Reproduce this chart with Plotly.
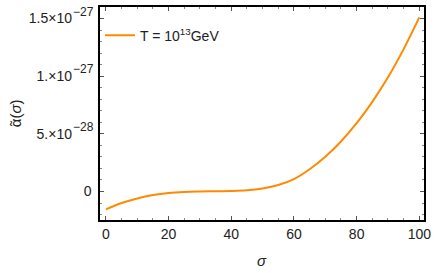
import plotly.graph_objects as go

sigma = [0, 5, 10, 15, 20, 25, 30, 35, 40, 45, 50, 55, 60, 65, 70, 75, 80, 85, 90, 95, 100]
alpha_1e27 = [-0.155, -0.100, -0.060, -0.031, -0.013, -0.004, 0.0, 0.002, 0.004, 0.010, 0.026,
              0.056, 0.108, 0.193, 0.301, 0.434, 0.592, 0.777, 0.990, 1.235, 1.510]
alpha = [v * 1e-27 for v in alpha_1e27]

ytick_vals = [0, 5e-28, 1e-27, 1.5e-27]
ytick_mant = ["0", "5.×10", "1.×10", "1.5×10"]
ytick_exp = ["", "−28", "−27", "−27"]
xtick_vals = [0, 20, 40, 60, 80, 100]
series_name = "T = 10<sup>13</sup>GeV"

FONT = "Liberation Sans, Arial, sans-serif"
ORANGE = "#FF8A00"
NB = "\u00a0"

ytick_text = [m + (NB * 5 if e else "") for m, e in zip(ytick_mant, ytick_exp)]

fig = go.Figure()
fig.add_trace(go.Scatter(
    x=sigma, y=alpha, mode="lines", line=dict(color=ORANGE, width=2, shape="spline"),
    name=series_name))

axis_common = dict(showgrid=False, zeroline=False, showline=True, linecolor="black",
                   linewidth=1.5, mirror="allticks", ticks="inside", ticklen=4,
                   tickcolor="#555", tickwidth=1,
                   tickfont=dict(family=FONT, size=14, color="#222"))

annotations = [
    dict(text="<i>σ</i>", xref="paper", yref="paper", x=0.5, y=-0.19,
         xanchor="center", yanchor="middle", showarrow=False,
         font=dict(family=FONT, size=15, color="#222")),
    dict(text="ᾶ(<i>σ</i>)", xref="paper", yref="paper", x=-0.26, y=0.5,
         xanchor="center", yanchor="middle", showarrow=False, textangle=-90,
         font=dict(family=FONT, size=15, color="#222")),
]
for v, e in zip(ytick_vals, ytick_exp):
    if e:
        annotations.append(dict(text=e, xref="paper", yref="y", x=0, y=v,
                                xanchor="right", yanchor="middle", xshift=-5, yshift=7,
                                showarrow=False, borderpad=0,
                                font=dict(family=FONT, size=12, color="#222")))

fig.update_layout(
    width=436, height=273,
    margin=dict(l=100, r=8, t=5, b=53),
    paper_bgcolor="white", plot_bgcolor="white",
    font=dict(family=FONT, size=14, color="#222"),
    showlegend=True,
    legend=dict(x=0.0, y=0.865, xanchor="left", yanchor="middle",
                bgcolor="rgba(0,0,0,0)", font=dict(family=FONT, size=14, color="#222")),
    xaxis=dict(range=[-1.9, 101.5], tickvals=xtick_vals,
               minor=dict(dtick=5, ticks="inside", ticklen=2, tickcolor="#888"),
               **axis_common),
    yaxis=dict(range=[-2.47e-28, 1.6e-27], tickvals=ytick_vals, ticktext=ytick_text,
               ticklabelstandoff=4,
               minor=dict(dtick=1e-28, tick0=0, ticks="inside", ticklen=2, tickcolor="#888"),
               **axis_common),
    annotations=annotations,
)

fig.write_html("out.html", config={"displayModeBar": False},
               post_script="document.body.style.margin='0';")
